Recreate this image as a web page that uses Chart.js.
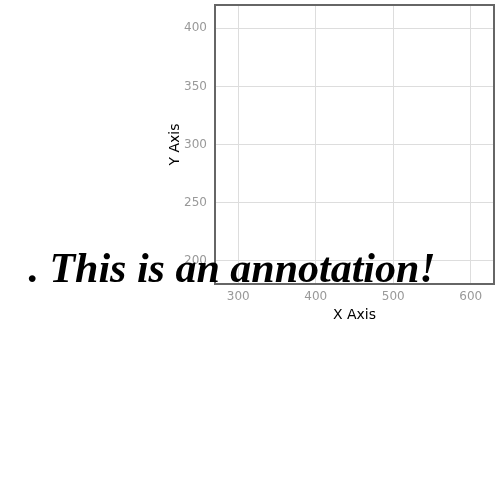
<!DOCTYPE html>
<html>
<head>
<meta charset="utf-8">
<script src="https://cdn.jsdelivr.net/npm/chart.js@4"></script>
<style>
  html, body { margin: 0; padding: 0; background: #fff; }
  #wrap { width: 500px; height: 500px; }
</style>
</head>
<body>
<div id="wrap"><canvas id="c" width="500" height="500"></canvas></div>
<script>
// Data
const xTicks = [300, 400, 500, 600];
const yTicks = [200, 250, 300, 350, 400];
const xRange = [270, 630];
const yRange = [180, 420];
const annotationText = ['. This is an annotation!'];
const annotationX = [292];
const annotationY = [181.5];

const framePlugin = {
  id: 'frame',
  afterDraw(chart) {
    const { ctx, chartArea: a } = chart;
    ctx.save();
    ctx.strokeStyle = '#666';
    ctx.lineWidth = 2;
    ctx.strokeRect(a.left, a.top, a.right - a.left, a.bottom - a.top);
    ctx.restore();
  }
};

const annotationPlugin = {
  id: 'annot',
  afterDraw(chart) {
    const { ctx, scales } = chart;
    ctx.save();
    ctx.fillStyle = '#000';
    ctx.font = 'bold italic 42px "Liberation Serif"';
    ctx.textAlign = 'center';
    ctx.textBaseline = 'alphabetic';
    annotationText.forEach((t, i) => {
      const px = scales.x.getPixelForValue(annotationX[i]);
      const py = scales.y.getPixelForValue(annotationY[i]);
      ctx.fillText(t, px, py, 415);
    });
    ctx.restore();
  }
};

new Chart(document.getElementById('c'), {
  type: 'scatter',
  data: { datasets: [{ data: [], pointRadius: 0 }] },
  options: {
    responsive: false,
    animation: false,
    events: [],
    layout: { padding: { left: 163, top: 5, right: 6, bottom: 176 } },
    plugins: { legend: { display: false }, tooltip: { enabled: false } },
    scales: {
      x: {
        type: 'linear',
        min: xRange[0], max: xRange[1],
        afterBuildTicks(s) { s.ticks = xTicks.map(v => ({ value: v })); },
        afterFit(s) { s.height = 40; s.paddingLeft = 0; s.paddingRight = 0; },
        grid: { color: '#dddddd', lineWidth: 1, drawTicks: false },
        border: { display: false },
        ticks: { color: '#999999', padding: 6, font: { family: 'DejaVu Sans', size: 12 } },
        title: { display: true, text: 'X Axis', color: '#000', padding: { top: 2, bottom: 0 }, font: { family: 'DejaVu Sans', size: 14 } }
      },
      y: {
        type: 'linear',
        min: yRange[0], max: yRange[1],
        afterBuildTicks(s) { s.ticks = yTicks.map(v => ({ value: v })); },
        afterFit(s) { s.width = 52; s.paddingTop = 0; s.paddingBottom = 0; },
        grid: { color: '#dddddd', lineWidth: 1, drawTicks: false },
        border: { display: false },
        ticks: { color: '#999999', padding: 8, font: { family: 'DejaVu Sans', size: 12 } },
        title: { display: true, text: 'Y Axis', color: '#000', padding: 4, font: { family: 'DejaVu Sans', size: 14 } }
      }
    }
  },
  plugins: [framePlugin, annotationPlugin]
});
</script>
</body>
</html>
